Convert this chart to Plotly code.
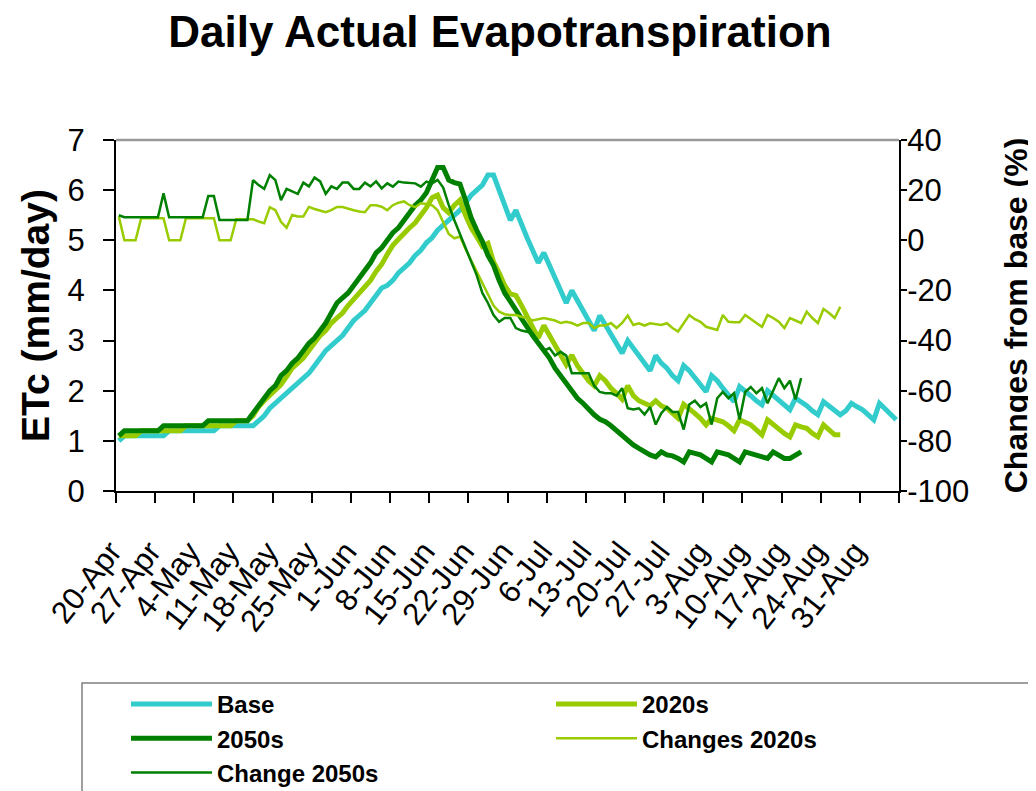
import pandas as pd
import plotly.graph_objects as go

# ---------------- data ----------------
START_DATE = "2009-04-20"          # first day of the season (20-Apr)

# Daily ETc (mm/day), one value per day starting 20-Apr, grouped by week
base_etc = [
    1.0, 1.1, 1.1, 1.1, 1.1, 1.1, 1.1,
    1.1, 1.1, 1.2, 1.2, 1.2, 1.2, 1.2,
    1.2, 1.2, 1.2, 1.2, 1.3, 1.3, 1.3,
    1.3, 1.3, 1.3, 1.3, 1.4, 1.5, 1.65,
    1.75, 1.85, 1.95, 2.05, 2.15, 2.25, 2.35,
    2.5, 2.65, 2.8, 2.9, 3.0, 3.1, 3.25,
    3.4, 3.5, 3.6, 3.75, 3.9, 4.05, 4.1,
    4.2, 4.35, 4.45, 4.55, 4.7, 4.8, 4.95,
    5.05, 5.2, 5.3, 5.4, 5.5, 5.6, 5.75,
    5.9, 6.0, 6.1, 6.3, 6.3, 6.0, 5.7,
    5.4, 5.6, 5.3, 5.05, 4.8, 4.55, 4.75,
    4.5, 4.25, 4.0, 3.75, 4.0, 3.8, 3.6,
    3.4, 3.2, 3.5, 3.3, 3.1, 2.9, 2.75,
    3.0, 2.85, 2.7, 2.55, 2.4, 2.7, 2.55,
    2.45, 2.3, 2.2, 2.5, 2.4, 2.25, 2.1,
    1.98, 2.3, 2.2, 2.05, 1.9, 1.78, 2.08,
    2.0, 1.9, 1.8, 1.72, 2.0, 1.9, 1.8,
    1.7, 1.62, 1.85, 1.78, 1.7, 1.6, 1.52,
    1.78, 1.7, 1.62, 1.52, 1.6, 1.75, 1.68,
    1.62, 1.52, 1.42, 1.75, 1.65, 1.55, 1.42,
]

etc_2020s = [
    1.1, 1.1, 1.1, 1.1, 1.2, 1.2, 1.2,
    1.2, 1.2, 1.2, 1.2, 1.2, 1.3, 1.3,
    1.3, 1.3, 1.3, 1.3, 1.3, 1.3, 1.3,
    1.4, 1.4, 1.4, 1.5, 1.68, 1.8, 1.9,
    2.0, 2.12, 2.28, 2.45, 2.55, 2.65, 2.8,
    2.95, 3.1, 3.2, 3.35, 3.45, 3.55, 3.7,
    3.82, 3.95, 4.08, 4.2, 4.38, 4.52, 4.72,
    4.9, 5.02, 5.15, 5.25, 5.35, 5.5, 5.65,
    5.85, 5.9, 5.65, 5.55, 5.7, 5.8, 5.5,
    5.25, 5.07, 4.88, 4.94, 4.57, 4.35, 4.1,
    3.93, 3.9, 3.7, 3.5, 3.25, 3.05, 3.3,
    3.1, 2.88, 2.7, 2.52, 2.71, 2.5, 2.35,
    2.2, 2.1, 2.3, 2.2, 2.05, 1.95, 1.83,
    2.1, 1.9, 1.8, 1.75, 1.7, 1.8, 1.7,
    1.65, 1.55, 1.45, 1.73, 1.65, 1.55, 1.45,
    1.32, 1.45, 1.42, 1.38, 1.3, 1.2, 1.42,
    1.38, 1.32, 1.22, 1.12, 1.42, 1.32, 1.22,
    1.15, 1.08, 1.32, 1.28, 1.25, 1.15, 1.08,
    1.32, 1.22, 1.12, 1.12,
]

etc_2050s = [
    1.1, 1.2, 1.2, 1.2, 1.2, 1.2, 1.2,
    1.2, 1.3, 1.3, 1.3, 1.3, 1.3, 1.3,
    1.3, 1.3, 1.4, 1.4, 1.4, 1.4, 1.4,
    1.4, 1.4, 1.4, 1.55, 1.7, 1.85, 2.0,
    2.1, 2.3, 2.4, 2.55, 2.65, 2.8, 2.95,
    3.05, 3.2, 3.35, 3.55, 3.75, 3.85, 3.95,
    4.1, 4.25, 4.4, 4.55, 4.75, 4.85, 5.0,
    5.15, 5.25, 5.4, 5.55, 5.7, 5.8, 5.95,
    6.2, 6.45, 6.45, 6.2, 6.15, 6.12, 5.8,
    5.45, 5.2, 4.98, 4.7, 4.5, 4.2, 3.95,
    3.78, 3.6, 3.42, 3.25, 3.1, 2.95, 2.8,
    2.65, 2.45, 2.3, 2.12, 2.0, 1.85, 1.75,
    1.63, 1.52, 1.43, 1.38, 1.3, 1.2, 1.12,
    1.0, 0.92, 0.85, 0.78, 0.72, 0.68, 0.78,
    0.72, 0.7, 0.65, 0.58, 0.78, 0.75, 0.72,
    0.65, 0.58, 0.78, 0.75, 0.72, 0.65, 0.58,
    0.78, 0.75, 0.72, 0.68, 0.65, 0.78, 0.72,
    0.65, 0.65, 0.72, 0.78,
]

# Changes from base (%), secondary axis
change_2020s = [
    9.5, 0.0, 0.0, 0.0, 8.8, 8.8, 8.8,
    8.8, 8.8, 0.0, 0.0, 0.0, 8.8, 8.8,
    8.8, 8.8, 8.8, 8.8, 0.0, 0.0, 0.0,
    8.4, 8.4, 8.4, 8.4, 7.5, 6.8, 13.2,
    12.0, 7.4, 5.0, 10.1, 9.5, 9.5, 13.3,
    12.5, 12.0, 11.2, 12.0, 13.3, 13.3, 12.5,
    12.0, 11.5, 11.2, 14.0, 14.0, 13.4, 12.0,
    14.0, 15.0, 15.5, 14.0, 13.2, 14.8, 14.5,
    14.0, 12.0, 7.0, 2.5, 0.8, 1.5, -3.5,
    -8.0, -12.5, -17.0, -22.0, -26.0, -28.5, -29.5,
    -29.8, -29.8, -30.5, -31.0, -32.0, -31.5, -31.0,
    -31.5, -32.0, -33.0, -32.5, -33.0, -34.0, -33.0,
    -33.0, -35.0, -34.0, -34.0, -33.0, -35.0, -33.0,
    -30.0, -33.8, -33.1, -34.0, -33.1, -33.5, -33.8,
    -33.1, -35.0, -36.4, -33.0, -29.8, -31.5, -32.5,
    -34.5, -35.3, -35.8, -29.8, -32.5, -32.7, -32.7,
    -29.8, -31.5, -33.0, -34.5, -29.8, -31.0, -32.5,
    -35.0, -31.0, -32.0, -33.0, -28.5, -31.0, -33.0,
    -27.4, -29.0, -31.0, -26.5,
]

change_2050s = [
    10.0, 9.2, 9.2, 9.2, 9.2, 9.2, 9.2,
    9.2, 18.7, 9.2, 9.2, 9.2, 9.2, 9.2,
    9.2, 9.2, 17.7, 17.7, 8.1, 8.1, 8.1,
    8.1, 8.1, 8.1, 24.0, 22.0, 20.5, 26.0,
    24.0, 16.0, 20.5, 19.5, 18.5, 23.0, 21.5,
    25.0, 23.5, 18.5, 21.5, 20.5, 23.0, 23.0,
    20.5, 20.5, 23.0, 21.5, 23.5, 20.7, 22.7,
    21.4, 23.4, 23.0, 22.7, 22.7, 21.4, 23.4,
    22.7, 24.1, 21.0, 14.0, 8.0, 2.5, -3.0,
    -8.5, -14.0, -21.0, -25.0, -29.8, -32.5, -31.0,
    -31.0, -35.0, -36.0, -36.5, -37.0, -41.0, -44.0,
    -43.0, -46.0, -44.5, -46.0, -53.0, -53.0, -53.0,
    -53.0, -58.0, -60.5, -61.0, -61.0, -62.0, -59.0,
    -67.0, -67.5, -67.0, -69.5, -66.5, -73.5, -69.0,
    -66.5, -68.5, -68.5, -75.5, -65.5, -64.0, -66.5,
    -65.0, -73.5, -63.0, -60.5, -63.0, -61.0, -71.5,
    -60.5, -58.5, -61.0, -59.0, -65.0, -60.0, -55.0,
    -59.0, -56.0, -63.5, -55.0,
]

tick_labels = [
    "20-Apr", "27-Apr", "4-May", "11-May", "18-May", "25-May", "1-Jun",
    "8-Jun", "15-Jun", "22-Jun", "29-Jun", "6-Jul", "13-Jul", "20-Jul",
    "27-Jul", "3-Aug", "10-Aug", "17-Aug", "24-Aug", "31-Aug", "",
]
etc_ticks = [0, 1, 2, 3, 4, 5, 6, 7]
change_ticks = [-100, -80, -60, -40, -20, 0, 20, 40]

# ---------------- helpers ----------------
day0 = pd.Timestamp(START_DATE)


def day_centres(n):
    # Excel date axis: each daily value sits in the middle of its day slot
    return [day0 + pd.Timedelta(days=i, hours=12) for i in range(n)]


tick_vals = [day0 + pd.Timedelta(days=7 * k) for k in range(len(tick_labels))]
x_range = [day0, day0 + pd.Timedelta(days=7 * (len(tick_labels) - 1))]

FONT = "Liberation Sans, Arial, sans-serif"
CYAN = "#33CCCC"
LIME = "#99CC00"
GREEN = "#008000"

OFF = 8                       # page body margin
W, H = 1036 - OFF, 791 - OFF  # figure size inside the window
L, T = 116 - OFF, 140 - OFF   # plot area left/top (figure px)
PW, PH = 783, 351             # plot area size
R, B = W - L - PW, H - T - PH


def fx(screen_x):   # screen px -> paper x
    return (screen_x - OFF - L) / PW


def fy(screen_y):   # screen px -> paper y
    return (T + PH - (screen_y - OFF)) / PH


fig = go.Figure()
fig.add_trace(go.Scatter(x=day_centres(len(base_etc)), y=base_etc, name="Base",
                         mode="lines", line=dict(color=CYAN, width=5)))
fig.add_trace(go.Scatter(x=day_centres(len(etc_2020s)), y=etc_2020s, name="2020s",
                         mode="lines", line=dict(color=LIME, width=5)))
fig.add_trace(go.Scatter(x=day_centres(len(etc_2050s)), y=etc_2050s, name="2050s",
                         mode="lines", line=dict(color=GREEN, width=5)))
fig.add_trace(go.Scatter(x=day_centres(len(change_2020s)), y=change_2020s,
                         name="Changes 2020s", yaxis="y2",
                         mode="lines", line=dict(color=LIME, width=2.5)))
fig.add_trace(go.Scatter(x=day_centres(len(change_2050s)), y=change_2050s,
                         name="Change 2050s", yaxis="y2",
                         mode="lines", line=dict(color=GREEN, width=2.5)))

fig.update_layout(
    width=W, height=H,
    margin=dict(l=L, r=R, t=T, b=B, autoexpand=False),
    paper_bgcolor="white", plot_bgcolor="white",
    font=dict(family=FONT, color="black"),
    title=dict(text="Daily Actual Evapotranspiration",
               xref="container", yref="container",
               x=(500 - OFF) / W, y=1 - (32 - OFF) / H,
               xanchor="center", yanchor="middle",
               font=dict(size=44, family=FONT, weight="bold", color="black")),
    xaxis=dict(type="date", range=x_range, tickvals=tick_vals, ticktext=tick_labels,
               tickangle=-52, tickfont=dict(size=31, family=FONT),
               ticks="outside", ticklen=10, tickwidth=1.5, tickcolor="black",
               ticklabelstandoff=18, ticklabelshift=-5,
               showline=True, linecolor="black", linewidth=2,
               showgrid=False, zeroline=False),
    yaxis=dict(range=[0, 7], tickvals=etc_ticks, ticktext=[str(v) for v in etc_ticks],
               tickfont=dict(size=31, family=FONT),
               ticks="outside", ticklen=11, tickwidth=1.5, tickcolor="black",
               ticklabelstandoff=12,
               showline=True, linecolor="black", linewidth=2,
               showgrid=False, zeroline=False,
               title=dict(text="ETc (mm/day)", standoff=6,
                          font=dict(size=39, family=FONT, weight="bold"))),
    yaxis2=dict(range=[-100, 40], tickvals=change_ticks,
                ticktext=[str(v) for v in change_ticks],
                overlaying="y", side="right",
                tickfont=dict(size=31, family=FONT),
                ticks="outside", ticklen=6, tickwidth=1.5, tickcolor="black",
                ticklabelstandoff=-6,
                showline=True, linecolor="black", linewidth=2,
                showgrid=False, zeroline=False,
                title=dict(text="Changes from base (%)", standoff=36,
                           font=dict(size=32, family=FONT, weight="bold"))),
    # inner halves of the crossing tick marks
    yaxis3=dict(range=[0, 7], tickvals=etc_ticks, overlaying="y", side="left",
                ticks="inside", ticklen=10, tickwidth=1.5, tickcolor="black",
                showticklabels=False, showline=False, showgrid=False, zeroline=False),
    yaxis4=dict(range=[-100, 40], tickvals=change_ticks, overlaying="y", side="right",
                ticks="inside", ticklen=10, tickwidth=1.5, tickcolor="black",
                showticklabels=False, showline=False, showgrid=False, zeroline=False),
    # legend sits left of / below the plot area so two entries fit per row
    legend=dict(orientation="h", xref="paper", yref="paper",
                x=fx(114), y=fy(682), xanchor="left", yanchor="top",
                font=dict(size=24, family=FONT, weight="bold"),
                itemwidth=81, entrywidth=317, entrywidthmode="pixels",
                indentation=12,
                tracegroupgap=0, bgcolor="rgba(0,0,0,0)", borderwidth=0),
    shapes=[
        # grey top edge of the plot area
        dict(type="line", xref="paper", yref="paper", x0=0, x1=1, y0=1, y1=1,
             line=dict(color="#999999", width=2.5)),
        # legend frame (runs off the right/bottom edge as in the reference)
        dict(type="rect", xref="paper", yref="paper",
             x0=fx(82), x1=fx(1050), y0=fy(810), y1=fy(683),
             line=dict(color="#808080", width=1.5), fillcolor="rgba(0,0,0,0)"),
    ],
)

fig.write_html("out.html")
